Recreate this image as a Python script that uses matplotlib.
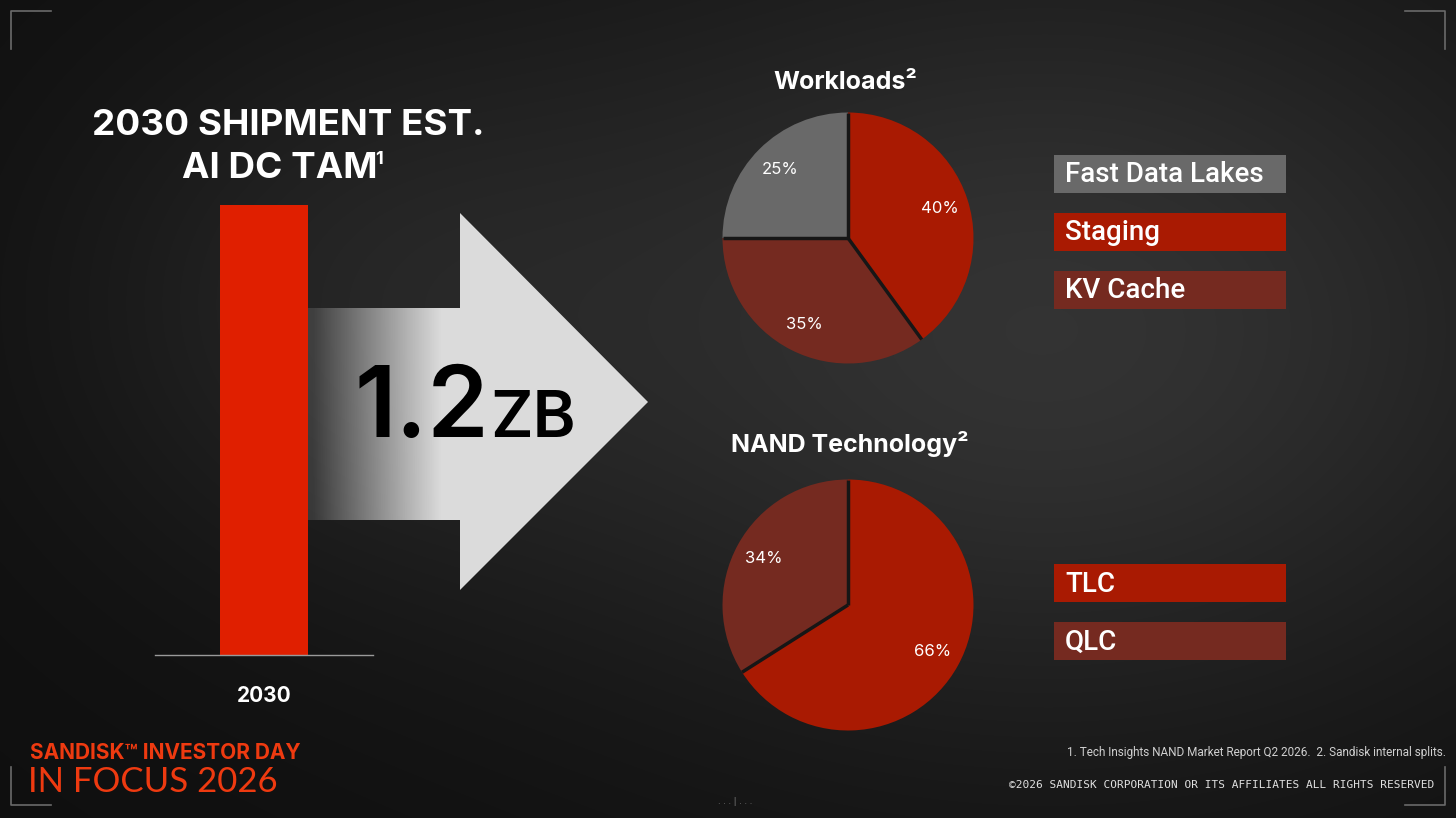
import numpy as np
import matplotlib
matplotlib.use("Agg")
import matplotlib.pyplot as plt
from matplotlib.patches import Polygon, Rectangle

# ---- data ----
bar_years = ["2030"]
bar_values = [1.2]          # ZB
tam_text = "1.2"
tam_unit = "ZB"

work_labels = ["Staging", "KV Cache", "Fast Data Lakes"]
work_values = [40, 35, 25]
work_colors = ["#a91a02", "#752a20", "#696969"]

nand_labels = ["TLC", "QLC"]
nand_values = [66, 34]
nand_colors = ["#a91a02", "#752a20"]

legend_work = ["Fast Data Lakes", "Staging", "KV Cache"]
legend_work_colors = ["#696969", "#a91a02", "#752a20"]
legend_nand = ["TLC", "QLC"]
legend_nand_colors = ["#a91a02", "#752a20"]

W, H = 1456, 818
fig = plt.figure(figsize=(W / 100, H / 100), dpi=100)
fig.patch.set_facecolor("#141414")

def px(l, t, w, h):
    # pixel box (left, top, width, height) -> figure fraction
    return [l / W, (H - t - h) / H, w / W, h / H]

# background canvas in pixel coordinates
bg = fig.add_axes([0, 0, 1, 1])
bg.set_xlim(0, W)
bg.set_ylim(H, 0)
bg.axis("off")
yy, xx = np.mgrid[0:H, 0:W]
glow = 0.06 + 0.14 * np.exp(-(((xx - 1050) / 560) ** 2 + ((yy - 330) / 400) ** 2))
glow += 0.06 * np.exp(-(((xx - 350) / 320) ** 2 + ((yy - 300) / 280) ** 2))
bg.imshow(np.dstack([glow] * 3), extent=(0, W, H, 0), aspect="auto", zorder=0)

# corner brackets
for (x0, y0, dx, dy) in [(11, 11, 1, 1), (1445, 11, -1, 1), (11, 805, 1, -1), (1445, 805, -1, -1)]:
    bg.plot([x0, x0, x0 + 40 * dx], [y0 + 38 * dy, y0, y0], color="#6a6a6a", lw=1.2, zorder=2)

# arrow with left fade
arrow = Polygon([(308, 308), (460, 308), (460, 213), (648, 402), (460, 590), (460, 520), (308, 520)],
                closed=True, facecolor="none", edgecolor="none")
bg.add_patch(arrow)
ramp = np.clip((np.linspace(308, 648, 200) - 290) / 150, 0.15, 1.0)
img = np.zeros((2, 200, 4))
img[..., :3] = 0.86
img[..., 3] = ramp
im = bg.imshow(img, extent=(308, 648, 590, 213), aspect="auto", zorder=3)
im.set_clip_path(arrow)

bg.text(489, 437, tam_text, fontsize=71, family="Inter", weight="semibold", color="black",
        ha="right", va="baseline", zorder=4)
bg.text(490, 437, tam_unit, fontsize=47, family="Inter", weight="semibold", color="black",
        ha="left", va="baseline", zorder=4)

# titles
bg.text(288, 135, "2030 SHIPMENT EST.", fontsize=26.5, family="Inter", weight="bold",
        color="white", ha="center", va="baseline", zorder=4)
bg.text(280, 178, "AI DC TAM", fontsize=26.5, family="Inter", weight="bold",
        color="white", ha="center", va="baseline", zorder=4)
bg.text(375, 164, "1", fontsize=13, family="Inter", weight="bold",
        color="white", ha="left", va="baseline", zorder=4)
bg.text(845, 89, "Workloads\u00b2", fontsize=18, family="Inter", weight="bold",
        color="white", ha="center", va="baseline", zorder=4)
bg.text(850, 452, "NAND Technology\u00b2", fontsize=18, family="Inter", weight="bold",
        color="white", ha="center", va="baseline", zorder=4)

# bar chart
bax = fig.add_axes(px(155, 205, 218, 450))
bax.bar(bar_years, bar_values, width=0.404, color="#e01f00")
bax.set_xlim(-0.5, 0.5)
bax.set_ylim(0, max(bar_values))
bax.patch.set_alpha(0)
for s in ["top", "right", "left"]:
    bax.spines[s].set_visible(False)
bax.spines["bottom"].set_color("#9a9a9a")
bax.spines["bottom"].set_linewidth(1)
bax.set_yticks([])
bax.tick_params(axis="x", length=0, pad=22, labelsize=15, labelcolor="white")
for t in bax.get_xticklabels():
    t.set_fontfamily("Inter")
    t.set_fontweight("bold")

# pies
def draw_pie(box, values, colors):
    ax = fig.add_axes(px(*box))
    wedges, texts, autotexts = ax.pie(
        values, colors=colors, startangle=90, counterclock=False,
        autopct="%d%%", pctdistance=0.77, radius=1,
        wedgeprops=dict(linewidth=0),
        textprops=dict(color="white", fontsize=12, family="Inter"))
    # thin dark gaps between slices
    for w in wedges:
        a = np.deg2rad(w.theta1)
        ax.plot([0, np.cos(a)], [0, np.sin(a)], color="#161616", lw=2.5, solid_capstyle="butt")
    ax.set_xlim(-1.02, 1.02)
    ax.set_ylim(-1.02, 1.02)
    ax.set_aspect("equal")
    return ax

draw_pie((720, 110, 256, 256), work_values, work_colors)
draw_pie((720, 477, 256, 256), nand_values, nand_colors)

# legend boxes
def draw_legend(labels, colors, top):
    for i, (lab, col) in enumerate(zip(labels, colors)):
        y = top + i * 58
        bg.add_patch(Rectangle((1054, y), 232, 38, facecolor=col, edgecolor="none", zorder=4))
        bg.text(1065, y + 20, lab, fontsize=20, family="Roboto", weight="medium", color="white",
                ha="left", va="center", zorder=5)

draw_legend(legend_work, legend_work_colors, 155)
draw_legend(legend_nand, legend_nand_colors, 564)

# footer
bg.text(30, 759, "SANDISK\u2122 INVESTOR DAY", fontsize=15, family="Inter", weight="bold",
        color="#ee3a10", ha="left", va="baseline", zorder=4)
bg.text(28, 792, "IN FOCUS 2026", fontsize=25, family="Lato", weight="normal",
        color="#ee3a10", ha="left", va="baseline", zorder=4)
bg.text(1446, 756, "1. Tech Insights NAND Market Report Q2 2026.  2. Sandisk internal splits.",
        fontsize=8.5, family="Roboto", color="#d0d0d0", ha="right", va="baseline", zorder=4)
bg.text(1434, 788, "\u00a92026 SANDISK CORPORATION OR ITS AFFILIATES ALL RIGHTS RESERVED",
        fontsize=8, family="DejaVu Sans Mono", color="#e0e0e0", ha="right", va="baseline", zorder=4)
bg.text(735, 804, ". . . | . . .", fontsize=6, family="DejaVu Sans", color="#777777",
        ha="center", va="baseline", zorder=4)

fig.savefig("out.png", dpi=100, facecolor=fig.get_facecolor())
